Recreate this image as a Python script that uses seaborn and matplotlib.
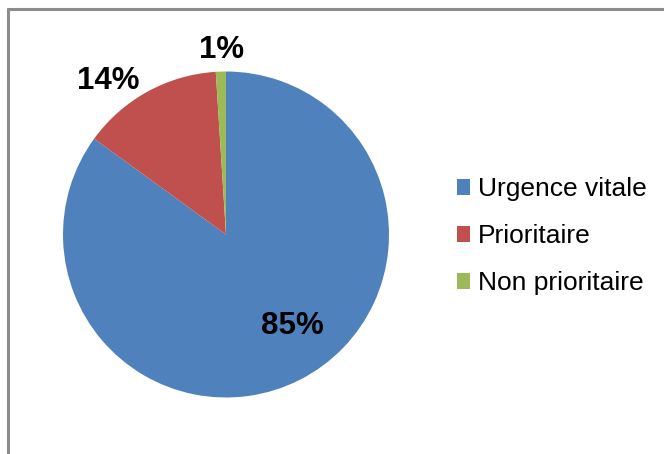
import matplotlib
matplotlib.use("Agg")
import matplotlib.pyplot as plt
import seaborn as sns
from matplotlib.patches import Patch
from matplotlib.lines import Line2D

# données
categories = ["Urgence vitale", "Prioritaire", "Non prioritaire"]
values = [85, 14, 1]
pct_labels = ["85%", "14%", "1%"]
colors = ["#4F81BD", "#C0504D", "#9BBB59"]

# position des étiquettes (coordonnées du disque, rayon = 1)
label_pos = [(0.41, -0.56), (-0.72, 0.94), (-0.03, 1.13)]

sns.set_theme(style="white")
plt.rcParams["font.family"] = ["Liberation Sans", "DejaVu Sans"]
plt.rcParams["text.color"] = "black"

W, H = 664, 454
fig = plt.figure(figsize=(W / 100, H / 100), dpi=100)
fig.patch.set_facecolor("white")

# cadre gris (gauche + haut)
fig.add_artist(Line2D([7.5 / W, 7.5 / W], [0, 1 - 8.5 / H], transform=fig.transFigure,
                      color="#8c8c8c", lw=2.2))
fig.add_artist(Line2D([7.5 / W, 1], [1 - 8.5 / H, 1 - 8.5 / H], transform=fig.transFigure,
                      color="#8c8c8c", lw=2.2))

cx, cy, r = 226, 234.5, 163
ax = fig.add_axes([(cx - r) / W, (H - cy - r) / H, 2 * r / W, 2 * r / H])
wedges, _ = ax.pie(values, colors=colors, startangle=90, counterclock=False,
                   radius=1, wedgeprops=dict(linewidth=0))
ax.set_xlim(-1, 1)
ax.set_ylim(-1, 1)
ax.set_aspect("equal")
ax.axis("off")

for txt, (x, y) in zip(pct_labels, label_pos):
    ax.text(x, y, txt, ha="center", va="center", fontsize=22.5,
            fontweight="bold", color="black", clip_on=False)

handles = [Patch(facecolor=c, edgecolor="none") for c in colors]
leg = fig.legend(handles, categories, loc="center left", bbox_to_anchor=(457 / W, 1 - 236 / H),
                 frameon=False, fontsize=19, handlelength=0.5, handleheight=0.55,
                 handletextpad=0.3, labelspacing=0.87, borderaxespad=0, borderpad=0)
for t in leg.get_texts():
    t.set_color("black")

fig.savefig("out.png", dpi=100, facecolor="white")
